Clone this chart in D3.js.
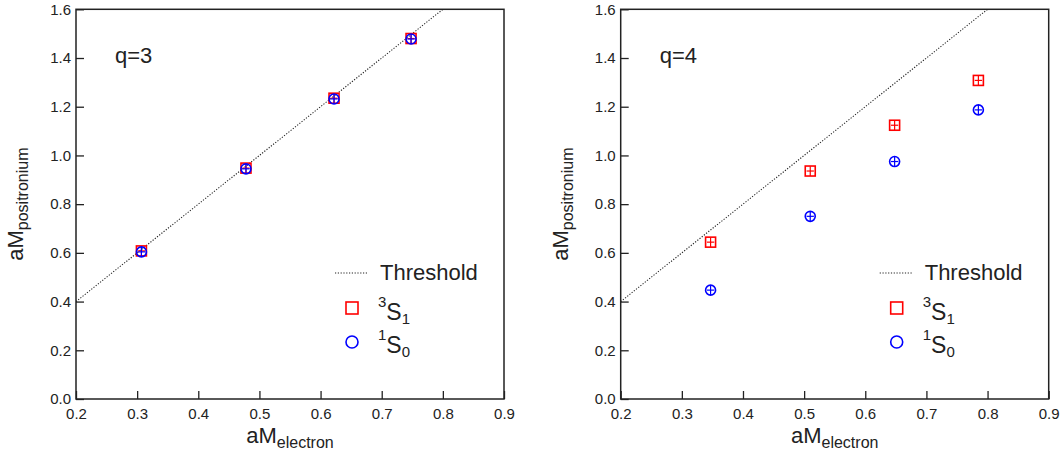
<!DOCTYPE html>
<html>
<head>
<meta charset="utf-8">
<script src="https://cdn.jsdelivr.net/npm/d3@7"></script>
<style>
body { margin: 0; background: #fff; }
text { font-family: "Liberation Sans", Arial, sans-serif; fill: #222; }
</style>
</head>
<body>
<script>
// tick values
var xTicks = [0.2, 0.3, 0.4, 0.5, 0.6, 0.7, 0.8, 0.9];
var yTicks = [0.0, 0.2, 0.4, 0.6, 0.8, 1.0, 1.2, 1.4, 1.6];

// threshold line aM_pos = 2 aM_el
var thresholdX = [0.2, 0.8];
var thresholdY = [0.4, 1.6];

// q=3
var q3Electron = [0.307, 0.478, 0.622, 0.748];
var q3Triplet = [0.608, 0.948, 1.235, 1.480];
var q3Singlet = [0.604, 0.945, 1.232, 1.478];

// q=4
var q4Electron = [0.347, 0.510, 0.648, 0.785];
var q4Triplet = [0.644, 0.936, 1.124, 1.308];
var q4Singlet = [0.447, 0.750, 0.975, 1.187];

// error bar half-widths (data units)
var xErr = 0.006, yErr = 0.02;

var panels = [
  { label: "q=3", ox: 76, el: q3Electron, trip: q3Triplet, sing: q3Singlet },
  { label: "q=4", ox: 620.7, el: q4Electron, trip: q4Triplet, sing: q4Singlet }
];

var W = 1061, H = 456;
var pw = 428, plotTop = 9.3, plotBottom = 399;

var svg = d3.select("body").append("svg")
  .attr("width", W)
  .attr("height", H);

panels.forEach(function(p, i) {
  var x = d3.scaleLinear().domain([0.2, 0.9]).range([0, pw]);
  var y = d3.scaleLinear().domain([0, 1.6]).range([plotBottom, plotTop]);

  var g = svg.append("g").attr("transform", "translate(" + p.ox + ",0)");

  var clipId = "clip" + i;
  g.append("clipPath").attr("id", clipId)
    .append("rect").attr("x", 0).attr("y", plotTop).attr("width", pw).attr("height", plotBottom - plotTop);

  // axes, ticks pointing inward
  var xa = g.append("g")
    .attr("transform", "translate(0," + plotBottom + ")")
    .call(d3.axisBottom(x).tickValues(xTicks).tickSize(-8).tickPadding(9).tickFormat(d3.format(".1f")));
  var ya = g.append("g")
    .call(d3.axisLeft(y).tickValues(yTicks).tickSize(-8).tickPadding(5).tickFormat(d3.format(".1f")));
  [xa, ya].forEach(function(a) {
    a.attr("font-size", null).attr("font-family", null);
    a.select(".domain").remove();
    a.selectAll(".tick line").attr("stroke", "#222").attr("stroke-width", 1.3);
    a.selectAll("text").style("font-size", "15px").attr("fill", "#222");
  });

  g.append("rect")
    .attr("x", 0).attr("y", plotTop)
    .attr("width", pw).attr("height", plotBottom - plotTop)
    .attr("fill", "none").attr("stroke", "#222").attr("stroke-width", 1.5);

  // threshold
  var line = d3.line().x(function(d) { return x(d[0]); }).y(function(d) { return y(d[1]); });
  g.append("path")
    .datum(d3.zip(thresholdX, thresholdY))
    .attr("clip-path", "url(#" + clipId + ")")
    .attr("d", line)
    .attr("fill", "none").attr("stroke", "#222").attr("stroke-width", 1.1)
    .attr("stroke-dasharray", "1.2,1.6");

  // error bars with small caps on the horizontal bar
  function errBars(vals, color) {
    var eg = g.append("g").attr("stroke", color).attr("stroke-width", 1.2);
    eg.selectAll("line.h").data(vals).enter().append("line")
      .attr("x1", function(d, k) { return x(p.el[k] - xErr); })
      .attr("x2", function(d, k) { return x(p.el[k] + xErr); })
      .attr("y1", function(d) { return y(d); })
      .attr("y2", function(d) { return y(d); });
    eg.selectAll("line.v").data(vals).enter().append("line")
      .attr("x1", function(d, k) { return x(p.el[k]); })
      .attr("x2", function(d, k) { return x(p.el[k]); })
      .attr("y1", function(d) { return y(d - yErr); })
      .attr("y2", function(d) { return y(d + yErr); });
  }

  g.selectAll("rect.trip").data(p.trip).enter().append("rect")
    .attr("x", function(d, k) { return x(p.el[k]) - 5; })
    .attr("y", function(d) { return y(d) - 5; })
    .attr("width", 10).attr("height", 10)
    .attr("fill", "none").attr("stroke", "#ff0000").attr("stroke-width", 1.6);
  errBars(p.trip, "#ff0000");

  g.selectAll("circle.sing").data(p.sing).enter().append("circle")
    .attr("cx", function(d, k) { return x(p.el[k]); })
    .attr("cy", function(d) { return y(d); })
    .attr("r", 5)
    .attr("fill", "none").attr("stroke", "#0000ff").attr("stroke-width", 1.6);
  errBars(p.sing, "#0000ff");

  // panel label
  g.append("text").attr("x", 39).attr("y", 63).style("font-size", "22px").text(p.label);

  // axis titles
  var xt = g.append("text")
    .attr("x", pw / 2).attr("y", 443)
    .attr("text-anchor", "middle");
  xt.append("tspan").style("font-size", "22px").text("aM");
  xt.append("tspan").attr("dy", 5).style("font-size", "16px").text("electron");

  var yt = g.append("text")
    .attr("transform", "translate(-53," + ((plotTop + plotBottom) / 2) + ") rotate(-90)")
    .attr("text-anchor", "middle");
  yt.append("tspan").style("font-size", "22px").text("aM");
  yt.append("tspan").attr("dy", 5).style("font-size", "16px").text("positronium");

  // legend
  var lg = g.append("g");
  lg.append("line")
    .attr("x1", 259).attr("x2", 292).attr("y1", 273).attr("y2", 273)
    .attr("stroke", "#222").attr("stroke-width", 1.1).attr("stroke-dasharray", "1.2,1.6");
  lg.append("text").attr("x", 304).attr("y", 280).style("font-size", "22px").text("Threshold");

  lg.append("rect")
    .attr("x", 276 - 6).attr("y", 308 - 6).attr("width", 12).attr("height", 12)
    .attr("fill", "none").attr("stroke", "#ff0000").attr("stroke-width", 1.6);
  var t1 = lg.append("text").attr("x", 302).attr("y", 320);
  t1.append("tspan").attr("dy", -13).style("font-size", "15px").text("3");
  t1.append("tspan").attr("dy", 13).style("font-size", "23px").text("S");
  t1.append("tspan").attr("dy", 4).style("font-size", "15px").text("1");

  lg.append("circle")
    .attr("cx", 276).attr("cy", 342).attr("r", 6)
    .attr("fill", "none").attr("stroke", "#0000ff").attr("stroke-width", 1.6);
  var t0 = lg.append("text").attr("x", 302).attr("y", 353);
  t0.append("tspan").attr("dy", -13).style("font-size", "15px").text("1");
  t0.append("tspan").attr("dy", 13).style("font-size", "23px").text("S");
  t0.append("tspan").attr("dy", 4).style("font-size", "15px").text("0");
});
</script>
</body>
</html>
